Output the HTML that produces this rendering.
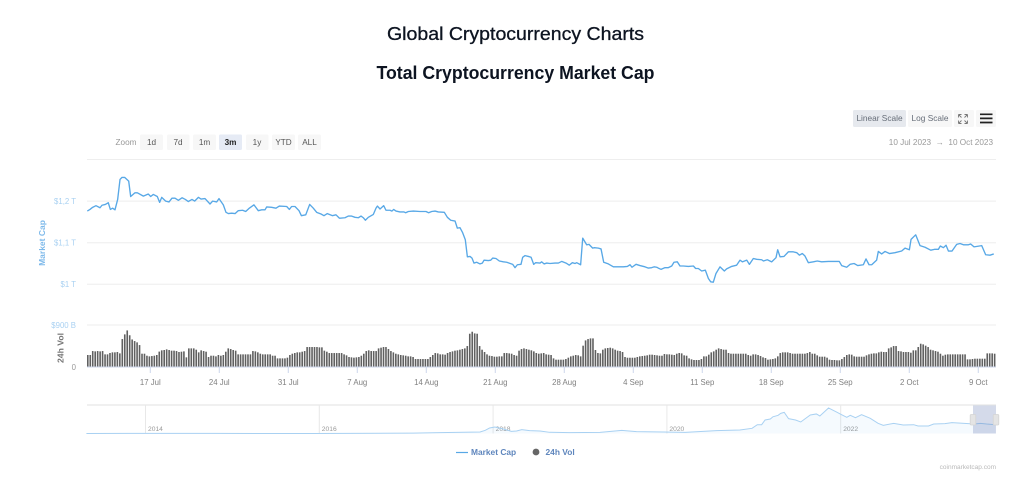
<!DOCTYPE html>
<html>
<head>
<meta charset="utf-8">
<title>Total Cryptocurrency Market Cap</title>
<style>
html,body{margin:0;padding:0;background:#fff;}
svg{display:block;font-family:"Liberation Sans",sans-serif;filter:blur(0.35px);}
</style>
</head>
<body>
<svg id="chart" xmlns="http://www.w3.org/2000/svg" width="1020" height="483" viewBox="0 0 1020 483">
<rect x="0" y="0" width="1020" height="483" fill="#fff"/>
<text x="515.5" y="40" text-anchor="middle" font-size="18.5" fill="#0d1421" textLength="257" lengthAdjust="spacingAndGlyphs" stroke="#0d1421" stroke-width="0.3">Global Cryptocurrency Charts</text>
<text x="515.5" y="79" text-anchor="middle" font-size="18.5" font-weight="bold" fill="#0d1421" textLength="278" lengthAdjust="spacingAndGlyphs">Total Cryptocurrency Market Cap</text>

<g font-size="8.3" text-anchor="middle">
<g><rect x="853" y="110" width="53" height="17" rx="1.5" fill="#e6e9ee"/><text x="879.5" y="121" fill="#666d78">Linear Scale</text></g>
<g><rect x="908" y="110" width="44" height="17" rx="1.5" fill="#f7f7f7"/><text x="930" y="121" fill="#666d78">Log Scale</text></g>
<g><rect x="954" y="110" width="20" height="17" rx="1.5" fill="#f7f7f7"/><path d="M958.5 114.5h3M958.5 114.5v3M958.5 114.5l3 3M967.5 114.5h-3M967.5 114.5v3M967.5 114.5l-3 3M958.5 123.5h3M958.5 123.5v-3M958.5 123.5l3-3M967.5 123.5h-3M967.5 123.5v-3M967.5 123.5l-3-3" stroke="#777" stroke-width="0.9" fill="none"/></g>
<g><rect x="976" y="110" width="20" height="17" rx="1.5" fill="#f7f7f7"/><path d="M980 114.3h12.5M980 118.4h12.5M980 122.5h12.5" stroke="#222" stroke-width="1.7" fill="none"/></g>
</g>

<g font-size="8.2" text-anchor="middle">
<text x="126" y="145.2" fill="#999">Zoom</text>
<g><rect x="140" y="134.5" width="23" height="15.5" rx="1.5" fill="#f7f7f7"/><text x="151.5" y="145.2" fill="#555">1d</text></g>
<g><rect x="167" y="134.5" width="22.5" height="15.5" rx="1.5" fill="#f7f7f7"/><text x="178" y="145.2" fill="#555">7d</text></g>
<g><rect x="193" y="134.5" width="23" height="15.5" rx="1.5" fill="#f7f7f7"/><text x="204.5" y="145.2" fill="#555">1m</text></g>
<g><rect x="219" y="134.5" width="23" height="15.5" rx="1.5" fill="#e6ebf5"/><text x="230.5" y="145.2" fill="#222" font-weight="bold">3m</text></g>
<g><rect x="246" y="134.5" width="22.5" height="15.5" rx="1.5" fill="#f7f7f7"/><text x="257" y="145.2" fill="#555">1y</text></g>
<g><rect x="272" y="134.5" width="23" height="15.5" rx="1.5" fill="#f7f7f7"/><text x="283.5" y="145.2" fill="#555">YTD</text></g>
<g><rect x="298" y="134.5" width="23" height="15.5" rx="1.5" fill="#f7f7f7"/><text x="309.5" y="145.2" fill="#555">ALL</text></g>
</g>
<text x="993" y="145" text-anchor="end" font-size="8.2" fill="#999">10 Jul 2023 &#160;→&#160; 10 Oct 2023</text>

<g id="grid"></g>
<g id="bars"></g>
<g id="axes"></g>
<path id="capLine" fill="none" stroke="#58a8e6" stroke-width="1.35" stroke-linejoin="round"/>

<text transform="translate(45,243) rotate(-90)" text-anchor="middle" font-size="8.5" font-weight="bold" fill="#7db9ea">Market Cap</text>
<text transform="translate(63.5,348) rotate(-90)" text-anchor="middle" font-size="8.6" font-weight="bold" fill="#777">24h Vol</text>

<g id="navigator"></g>

<g font-size="8.4" font-weight="bold" fill="#5f86bd">
<g><line x1="456" y1="452.5" x2="468" y2="452.5" stroke="#58a8e6" stroke-width="1.2"/><text x="471" y="455.2">Market Cap</text></g>
<g><circle cx="536" cy="452" r="3.4" fill="#666"/><text x="545.5" y="455.2">24h Vol</text></g>
</g>
<text x="996" y="469" text-anchor="end" font-size="6.5" fill="#b9b9b9">coinmarketcap.com</text>
</svg>

<script>
var capDays = [0.03,0.30,0.57,0.91,1.32,1.52,1.86,2.16,2.37,2.60,2.84,3.11,3.35,3.55,3.82,4.23,4.43,4.87,5.11,5.72,6.22,6.46,6.73,7.13,7.37,7.58,7.98,8.32,8.62,8.93,9.27,9.64,9.98,10.28,10.65,10.92,11.30,11.57,11.97,12.48,12.75,13.16,13.39,13.83,14.10,14.34,14.68,15.02,15.35,15.79,16.10,16.47,16.94,17.38,17.72,18.06,18.23,18.73,19.17,19.51,20.26,20.53,20.76,21.10,21.51,21.75,22.19,22.59,22.96,23.30,23.74,24.04,24.38,24.89,25.26,25.60,
25.67,26.17,26.51,26.85,27.19,27.53,27.80,28.03,28.24,28.54,29.05,29.32,29.46,29.73,30.10,30.33,30.74,30.94,31.11,31.35,31.75,32.16,32.33,32.60,33.11,33.78,34.39,34.66,34.97,35.31,35.64,36.25,36.56,36.90,37.34,37.57,37.84,38.11,38.38,38.59,38.86,39.06,39.26,39.53,39.87,40.11,40.28,40.72,40.96,41.16,41.49,41.83,42.24,42.58,43.19,43.42,43.66,44.03,44.20,44.44,44.78,45.05,45.32,45.52,45.96,46.13,46.37,46.64,46.97,47.48,47.82,48.16,48.60,48.93,49.24,49.51,49.68,50.08,50.29,50.69,50.93,51.30,51.47,51.88,52.15,52.42,52.89,53.40,53.91,54.41,54.82,55.09,55.29,55.70,56.10,56.61,56.95,57.29,57.53,57.80,57.96,58.23,58.64,58.98,59.32,59.55,59.89,60.16,
60.50,61.01,61.52,61.75,62.02,62.36,62.73,63.04,63.27,63.54,63.81,64.22,64.66,64.89,65.40,65.91,66.25,66.49,66.93,67.20,67.60,67.94,68.45,68.62,69.02,69.46,69.90,70.07,70.31,70.71,71.15,71.66,72.00,72.27,72.57,72.84,73.18,73.69,74.09,74.53,75.21,76.32,76.56,77.07,77.41,77.82,78.19,78.76,79.03,79.34,79.61,80.11,80.28,80.62,80.96,81.40,81.97,82.65,82.99,83.43,83.60,84.07,84.51,85.02,85.60,85.97,86.37,86.57,86.88,87.15,87.39,87.76,88.23,88.57,88.91,89.42,89.65,89.99,90.77,91.17,91.61,91.99];
var capValues = [1176,1180,1185,1189,1184,1190,1192,1196,1180,1183,1179,1204,1252,1257,1257,1248,1211,1220,1220,1212,1217,1211,1216,1211,1197,1209,1200,1198,1207,1207,1202,1208,1204,1199,1204,1200,1209,1205,1206,1193,1200,1198,1206,1191,1173,1170,1171,1170,1177,1178,1175,1183,1191,1177,1179,1179,1186,1185,1183,1188,1187,1180,1187,1187,1177,1165,1167,1192,1183,1173,1169,1165,1170,1165,1167,1159,
1159,1160,1164,1164,1161,1160,1164,1160,1154,1161,1168,1183,1188,1181,1189,1178,1178,1176,1180,1176,1174,1174,1172,1175,1176,1175,1175,1172,1175,1176,1174,1173,1161,1154,1152,1135,1136,1124,1107,1066,1067,1063,1051,1053,1049,1051,1058,1057,1058,1063,1062,1056,1054,1053,1048,1040,1047,1048,1065,1069,1067,1065,1048,1052,1051,1054,1049,1051,1050,1051,1051,1055,1051,1046,1052,1050,1052,1047,1111,1095,1096,1087,1088,1087,1085,1053,1049,1042,1042,1042,1043,1047,1041,1048,1045,1042,1039,1040,1042,1041,1039,1036,1040,1040,1044,1053,1054,1044,
1044,1043,1044,1038,1038,1032,1034,1014,1006,1005,1026,1042,1032,1037,1043,1046,1058,1054,1058,1048,1062,1060,1059,1056,1059,1054,1064,1083,1066,1067,1078,1078,1076,1070,1074,1068,1052,1054,1056,1054,1055,1055,1045,1041,1048,1050,1045,1047,1061,1047,1047,1058,1079,1073,1079,1074,1076,1080,1087,1083,1108,1119,1093,1089,1082,1084,1084,1092,1088,1094,1080,1080,1096,1098,1095,1095,1097,1090,1093,1071,1070,1073];
var volValues = [257,257,342,335,342,335,342,271,271,300,314,314,321,292,599,699,784,680,590,556,528,470,285,285,242,228,235,242,257,330,357,364,378,364,350,350,342,321,328,335,207,399,399,399,371,314,357,342,328,214,242,242,228,257,242,257,328,399,385,364,350,271,271,271,271,271,271,342,335,314,285,271,271,271,271,242,242,185,185,185,185,200,257,285,300,314,314,328,342,428,428,428,428,428,421,421,350,328,299,299,299,299,299,299,271,250,214,207,200,207,214,242,285,342,357,
342,342,342,399,414,428,428,385,342,314,285,271,257,250,242,228,228,214,171,171,171,171,171,171,214,257,299,292,271,271,264,300,321,335,350,357,371,385,399,449,713,756,720,713,449,371,321,271,242,235,221,221,228,228,299,299,292,285,257,242,350,385,399,385,371,357,335,300,285,292,300,271,264,257,185,157,157,157,157,171,200,228,242,257,250,228,457,570,599,613,613,364,300,292,371,399,407,414,399,371,350,342,321,214,199,199,199,199,214,228,235,242,250,264,264,257,250,242,242,278,271,271,264,257,285,300,292,250,242,185,164,150,150,150,
171,228,228,264,314,335,371,399,385,371,371,300,285,285,285,285,285,285,285,257,242,271,271,257,235,207,192,157,164,171,185,228,299,314,314,314,299,285,285,285,285,285,285,299,321,285,285,250,221,221,221,200,157,150,150,143,143,171,214,257,271,264,228,221,221,221,221,250,271,285,292,292,314,328,321,321,399,421,449,449,342,335,321,321,321,306,357,357,428,499,485,457,428,371,357,342,328,285,242,264,271,271,271,271,271,271,271,271,164,164,171,178,178,178,178,178,292,292,292,285];
var capTickValues = [1000,1100,1200,1300];
var capTickLabels = ["$1 T","$1,1 T","$1,2 T",""];
var volTickValues = [0,900];
var volTickLabels = ["0","$900 B"];
var weekTickDays = [6.42,13.42,20.42,27.42,34.42,41.42,48.42,55.42,62.42,69.42,76.42,83.42,90.42];
var weekTickLabels = ["17 Jul","24 Jul","31 Jul","7 Aug","14 Aug","21 Aug","28 Aug","4 Sep","11 Sep","18 Sep","25 Sep","2 Oct","9 Oct"];
var navYears = [2013.32,2013.86,2014.78,2015.93,2017.08,2017.39,2017.85,2017.91,2017.96,2018.02,2018.12,2018.21,2018.27,2018.33,2018.42,2018.54,2018.65,2018.88,2019.23,2019.48,2019.65,2019.96,2020.21,2020.57,2020.84,2020.98,2021.04,2021.09,2021.13,2021.19,2021.22,2021.28,2021.31,2021.35,2021.40,2021.48,2021.54,2021.65,2021.72,2021.76,2021.86,2021.95,2022.01,2022.07,2022.11,2022.17,2022.24,2022.34,2022.43,2022.49,2022.61,2022.72,2022.84,2022.89,2023.01,2023.07,2023.20,2023.28,2023.47,2023.53,2023.61,2023.68,2023.78];
var navValues = [5,12,8,6,38,95,170,360,630,740,510,245,285,435,320,285,135,95,130,360,210,170,130,320,400,590,1000,1000,1535,1650,1900,2065,2290,2400,1690,1535,1310,2100,2220,1990,2900,2445,2140,1840,2065,1800,2140,1725,1155,930,1155,965,1000,850,850,1080,1120,1230,1120,1080,1155,1080,1000];
var navTickYears = [2014,2016,2018,2020,2022];
var barStepDays = 0.25;

var NS = 'http://www.w3.org/2000/svg';
var plotLeft = 87, plotRight = 996;
function xDay(d){ return plotLeft + d * 9.857; }
function yCap(v){ return 284.3 - (v - 1000) * 0.416; }
function yVol(v){ return 367 - v / 900 * 42; }
function xYear(y){ return 145.5 + (y - 2014) * 86.9; }
function yNav(v){ return 433.5 - v * 0.0088; }
function mk(tag, attrs, parent, text){
  var el = document.createElementNS(NS, tag);
  for (var k in attrs) el.setAttribute(k, attrs[k]);
  if (text !== undefined) el.textContent = text;
  parent.appendChild(el);
  return el;
}
var grid = document.getElementById('grid');
var axes = document.getElementById('axes');
var bars = document.getElementById('bars');
var nav = document.getElementById('navigator');

capTickValues.forEach(function(v, i){
  var gl = mk('line', {x1:plotLeft, x2:plotRight, y1:yCap(v), y2:yCap(v), stroke:'#eeeeee', 'stroke-width':1}, grid);
  
  
  if (capTickLabels[i]) {
    var t = mk('text', {x:76, y:yCap(v)+2.8, 'text-anchor':'end', 'font-size':7.8, fill:'#a9d1f2'}, axes, capTickLabels[i]);
    
    
  }
});
volTickValues.forEach(function(v, i){
  var isZero = v === 0;
  var gl = mk('line', {x1:plotLeft, x2:plotRight, y1:yVol(v), y2:yVol(v), stroke:isZero ? '#ccd6eb' : '#eeeeee', 'stroke-width':1}, isZero ? axes : grid);
  
  
  var t = mk('text', {x:76, y:yVol(v)+2.8, 'text-anchor':'end', 'font-size':7.8, fill:isZero ? '#999' : '#a9d1f2'}, axes, volTickLabels[i]);
  
  
});
weekTickDays.forEach(function(d, i){
  var x = xDay(d);
  var tk = mk('line', {x1:x, x2:x, y1:367, y2:373, stroke:'#ccd6eb', 'stroke-width':1}, axes);
  
  
  var t = mk('text', {x:x, y:385, 'text-anchor':'middle', 'font-size':7.8, fill:'#808080'}, axes, weekTickLabels[i]);
  
  
});
volValues.forEach(function(v, i){
  var x = xDay(i * barStepDays);
  var b = mk('rect', {x:x, y:yVol(v), width:1.6, height:367 - yVol(v), fill:'#606060'}, bars);
  
  
});
document.getElementById('capLine').setAttribute('d', capDays.map(function(d, i){
  return (i ? 'L' : 'M') + xDay(d).toFixed(2) + ' ' + yCap(capValues[i]).toFixed(2);
}).join(''));

var navTop = mk('line', {x1:plotLeft, x2:plotRight, y1:405, y2:405, stroke:'#e6e6e6', 'stroke-width':1.2}, nav);


navTickYears.forEach(function(y){
  var x = xYear(y);
  var l = mk('line', {x1:x, x2:x, y1:405, y2:433.5, stroke:'#e8e8e8', 'stroke-width':1}, nav);
  
  
  var t = mk('text', {x:x+2.5, y:431, 'font-size':6.7, fill:'#999'}, nav, String(y));
  
  
});
var navPts = navYears.map(function(y, i){ return xYear(y).toFixed(2) + ' ' + yNav(navValues[i]).toFixed(2); });
var navArea = mk('path', {d:'M' + xYear(navYears[0]).toFixed(2) + ' 433.5L' + navPts.join('L') + 'L' + xYear(navYears[navYears.length-1]).toFixed(2) + ' 433.5Z', fill:'#58a8e6', 'fill-opacity':0.06}, nav);


var navLine = mk('path', {d:'M' + navPts.join('L'), fill:'none', stroke:'#a9d1f2', 'stroke-width':1}, nav);


var sel = mk('rect', {x:973, y:405.5, width:23, height:28, fill:'#667bb2', 'fill-opacity':0.28}, nav);


[973, 996].forEach(function(x){
  var h = mk('rect', {x:x-2.8, y:414.5, width:5.6, height:10.5, rx:1, fill:'#e4e4e4', stroke:'#d4d4d4', 'stroke-width':0.8}, nav);
  
  
});
</script>
</body>
</html>
